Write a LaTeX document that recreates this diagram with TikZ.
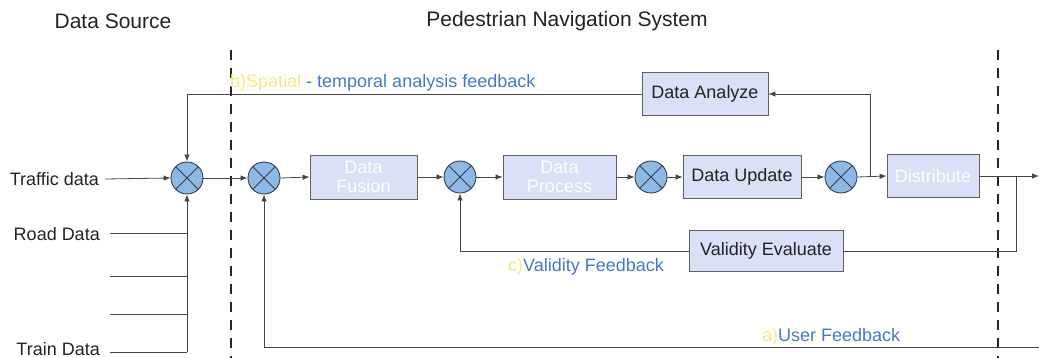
\documentclass[tikz,border=0pt]{standalone}
\usepackage{fontspec}
\setmainfont{Liberation Sans}
\usetikzlibrary{arrows.meta}
\definecolor{boxfill}{RGB}{218,224,245}
\definecolor{boxline}{RGB}{95,95,100}
\definecolor{circfill}{RGB}{140,185,230}
\definecolor{circline}{RGB}{55,60,75}
\definecolor{linecol}{RGB}{70,70,70}
\definecolor{lblue}{RGB}{70,120,198}
\definecolor{lyellow}{RGB}{240,235,130}
\definecolor{txt}{RGB}{35,35,35}
\begin{document}
\begin{tikzpicture}[x=1pt,y=-1pt,
  blk/.style={draw=boxline, fill=boxfill, line width=0.8pt, inner sep=0pt, align=center,
    font=\fontsize{18}{19}\selectfont, text=txt},
  fade/.style={text=white},
  sumj/.style={circle, draw=circline, fill=circfill, minimum size=32pt, inner sep=0pt, line width=0.9pt,
    path picture={\draw[circline, line width=0.9pt]
      (path picture bounding box.north west) -- (path picture bounding box.south east)
      (path picture bounding box.north east) -- (path picture bounding box.south west);}},
  conn/.style={draw=linecol, line width=0.8pt},
  arr/.style={conn, -{Latex[length=7pt,width=5.5pt]}},
  lbl/.style={font=\fontsize{18}{19}\selectfont, text=txt, inner sep=0pt},
  fb/.style={font=\fontsize{18}{19}\selectfont, inner sep=0pt, anchor=base west},
  title/.style={font=\fontsize{21}{23}\selectfont, text=txt, inner sep=0pt},
  sep/.style={draw=black!85, line width=1.4pt, dash pattern=on 10pt off 8pt}
]
\useasboundingbox (0,0) rectangle (1039,358);

% titles
\node[title] (tsrc) at (113,21) {Data Source};
\node[title] (tnav) at (567,21) {Pedestrian Navigation System};

% separators
\draw[sep] (231,50) -- (231,358);
\draw[sep] (998,50) -- (998,358);

% summing junctions
\node[sumj] (c1) at (187,178) {};
\node[sumj] (c2) at (264,178) {};
\node[sumj] (c3) at (460,177) {};
\node[sumj] (c4) at (651,177) {};
\node[sumj] (c5) at (841,177) {};

% blocks
\node[blk, fade, minimum width=107pt, minimum height=44pt] (fusion) at (363.5,177) {Data\\Fusion};
\node[blk, fade, minimum width=113pt, minimum height=44pt] (process) at (559.5,177) {Data\\Process};
\node[blk, minimum width=118pt, minimum height=43pt] (update) at (742,177) {Data Update};
\node[blk, fade, minimum width=92pt, minimum height=43pt] (distribute) at (933,176) {Distribute};
\node[blk, minimum width=126pt, minimum height=43pt] (analyze) at (705,94) {Data Analyze};
\node[blk, minimum width=154pt, minimum height=41pt] (validity) at (766,251) {Validity Evaluate};

% sources
\node[lbl, anchor=east] (traffic) at (99,179) {Traffic data};
\node[lbl, anchor=east] (road) at (100,234) {Road Data};
\node[lbl, anchor=east] (train) at (100,349) {Train Data};
\coordinate (s1) at (110,233);
\coordinate (s2) at (110,276);
\coordinate (s3) at (110,314);
\coordinate (s4) at (110,352);
\coordinate (j4) at (187,352);

\draw[arr] (traffic.east) ++(6,0) -- (c1.west);
\draw[conn] (s1) -- (s1 -| c1);
\draw[conn] (s2) -- (s2 -| c1);
\draw[conn] (s3) -- (s3 -| c1);
\draw[conn] (s4) -- (j4);
\draw[arr] (j4) -- (c1.south);

% main chain
\draw[arr] (c1.east) -- (c2.west);
\draw[arr] (c2.east) -- (fusion.west);
\draw[arr] (fusion.east) -- (c3.west);
\draw[arr] (c3.east) -- (process.west);
\draw[arr] (process.east) -- (c4.west);
\draw[arr] (c4.east) -- (update.west);
\draw[arr] (update.east) -- (c5.west);
\draw[arr] (c5.east) -- (distribute.west);
\coordinate (out) at (1039,176);
\draw[arr] (distribute.east) -- (out);

% spatial-temporal feedback
\coordinate (b1) at (870,176);
\draw[arr] (b1) |- (analyze.east);
\draw[arr] (analyze.west) -| (c1.north);

% validity feedback
\coordinate (b2) at (1016,176);
\draw[conn] (b2) |- (validity.east);
\draw[arr] (validity.west) -| (c3.south);

% user feedback
\coordinate (uf) at (1039,347);
\draw[arr] (uf) -| (c2.south);

% feedback labels
\node[fb] (lb) at (230,88) {\textcolor{lyellow}{b)Spatial} \textcolor{lblue}{- temporal analysis feedback}};
\node[fb] (lc) at (508,271) {\textcolor{lyellow}{c)}\textcolor{lblue}{Validity Feedback}};
\node[fb] (la) at (762,341) {\textcolor{lyellow}{a)}\textcolor{lblue}{User Feedback}};
\end{tikzpicture}
\end{document}
